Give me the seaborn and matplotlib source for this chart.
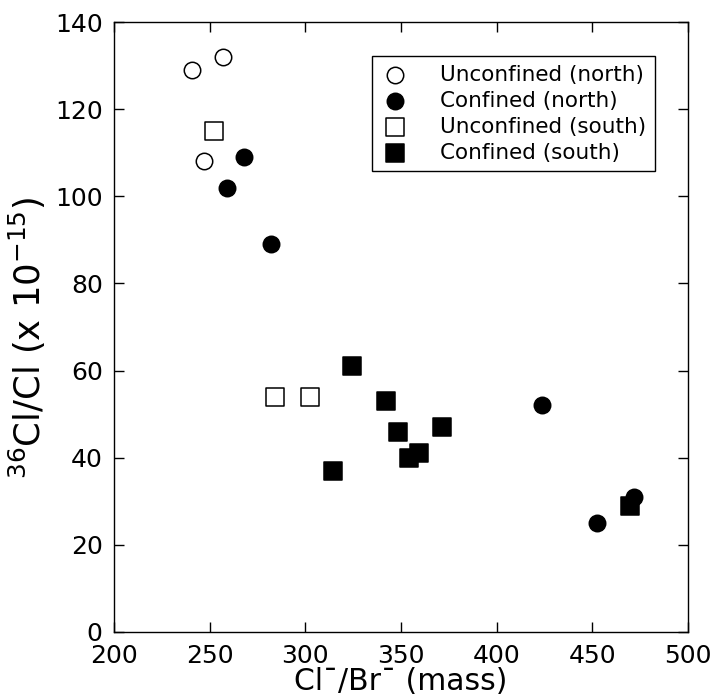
import matplotlib
matplotlib.use("Agg")
import matplotlib.pyplot as plt
import seaborn as sns
import pandas as pd

# Cl/Br mass ratio and 36Cl/Cl (x 1e-15) for each well group
unconf_north_x = [241, 257.2, 247]
unconf_north_y = [129, 132, 108]

conf_north_x = [268, 259.2, 282.2, 423.5, 452.5, 471.8]
conf_north_y = [109, 102, 89, 52, 25, 31]

unconf_south_x = [252.3, 284.2, 302.5]
unconf_south_y = [115, 54, 54]

conf_south_x = [324.2, 342.2, 348.3, 354.2, 359.4, 371.5, 314.3, 469.7]
conf_south_y = [61, 53, 46, 40, 41, 47, 37, 29]

groups = [
    ("Unconfined (north)", unconf_north_x, unconf_north_y, "o", "white", 140),
    ("Confined (north)", conf_north_x, conf_north_y, "o", "black", 140),
    ("Unconfined (south)", unconf_south_x, unconf_south_y, "s", "white", 150),
    ("Confined (south)", conf_south_x, conf_south_y, "s", "black", 150),
]

sns.set_style("ticks")
plt.rcParams["font.family"] = ["DejaVu Sans"]
plt.rcParams["mathtext.fontset"] = "dejavusans"
plt.rcParams["text.color"] = "black"
plt.rcParams["axes.labelcolor"] = "black"
plt.rcParams["xtick.color"] = "black"
plt.rcParams["ytick.color"] = "black"

fig = plt.figure(figsize=(7.16, 6.99), dpi=100)
ax = fig.add_axes([0.159, 0.0959, 0.802, 0.8726])

for label, xs, ys, marker, face, size in groups:
    df = pd.DataFrame({"ratio": xs, "cl36": ys})
    sns.scatterplot(data=df, x="ratio", y="cl36", ax=ax, marker=marker,
                    color=face, edgecolor="black", linewidth=1.1, s=size,
                    label=label, zorder=3)

ax.set_xlim(200, 500)
ax.set_ylim(0, 140)
ax.set_xticks(range(200, 501, 50))
ax.set_yticks(range(0, 141, 20))

for side in ["top", "right", "bottom", "left"]:
    ax.spines[side].set_visible(True)
    ax.spines[side].set_linewidth(1.0)
    ax.spines[side].set_color("black")

ax.tick_params(direction="in", length=7, width=1, top=True, right=True,
               labelsize=18, colors="black")
ax.tick_params(axis="y", pad=8)
ax.tick_params(axis="x", pad=9)

ax.set_xlabel("Cl¯/Br¯ (mass)", fontsize=21.5, labelpad=-1)
ax.set_ylabel(r"$^{36}$Cl/Cl (x 10$^{-15}$)", fontsize=25.5, labelpad=5)
ax.yaxis.label.set_y(0.483)

leg = ax.legend(loc="upper right", bbox_to_anchor=(0.9425, 0.944),
                fontsize=15.5, frameon=True, fancybox=False, borderaxespad=0,
                labelspacing=0.28, handlelength=1.34, handletextpad=1.42,
                borderpad=0.4)
leg.get_frame().set_edgecolor("black")
leg.get_frame().set_linewidth(1.0)
leg.get_frame().set_alpha(1)
for t in leg.get_texts():
    t.set_color("black")

fig.savefig("out.png", dpi=100)
